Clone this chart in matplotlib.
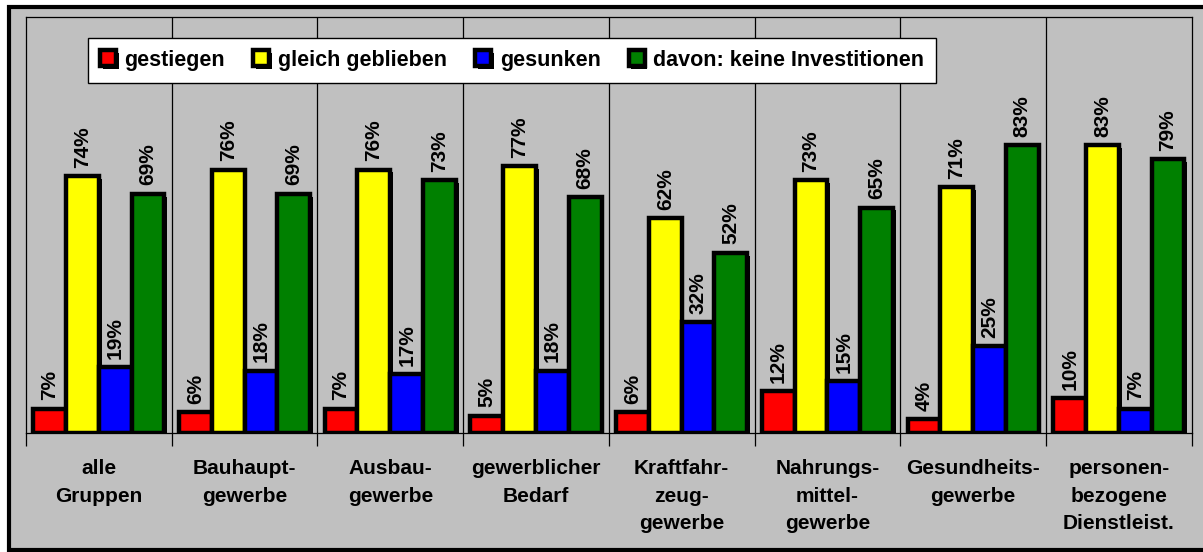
import numpy as np
import matplotlib
matplotlib.use('Agg')
import matplotlib.pyplot as plt
import matplotlib.patheffects as pe
from matplotlib.patches import Rectangle

categories = ['alle\nGruppen', 'Bauhaupt-\ngewerbe', 'Ausbau-\ngewerbe', 'gewerblicher\nBedarf',
              'Kraftfahr-\nzeug-\ngewerbe', 'Nahrungs-\nmittel-\ngewerbe', 'Gesundheits-\ngewerbe',
              'personen-\nbezogene\nDienstleist.']
series_names = ['gestiegen', 'gleich geblieben', 'gesunken', 'davon: keine Investitionen']
gestiegen = [7, 6, 7, 5, 6, 12, 4, 10]
gleich = [74, 76, 76, 77, 62, 73, 71, 83]
gesunken = [19, 18, 17, 18, 32, 15, 25, 7]
keine_inv = [69, 69, 73, 68, 52, 65, 83, 79]
colors = ['#FF0000', '#FFFF00', '#0000FF', '#008000']

plt.rcParams['font.family'] = ['Liberation Sans', 'DejaVu Sans']
plt.rcParams['font.weight'] = 'bold'

W, H = 1203, 552
fig = plt.figure(figsize=(W / 100, H / 100), dpi=100, facecolor='white')

# grey chart area with black border
fig.patches.append(Rectangle((9 / W, 2 / H), 1.05, (550 - 7) / H, transform=fig.transFigure,
                             facecolor='#C0C0C0', edgecolor='black', linewidth=3, zorder=-5))

ax = fig.add_axes([26 / W, (H - 433) / H, (1191.7 - 26) / W, (433 - 17) / H])
ax.set_facecolor('#C0C0C0')
ax.patch.set_alpha(0)

x = np.arange(len(categories))
width = 0.225
shadow = [pe.SimplePatchShadow(offset=(2, -2), shadow_rgbFace='black', alpha=1), pe.Normal()]

all_series = [gestiegen, gleich, gesunken, keine_inv]
handles = []
for i, (vals, col, name) in enumerate(zip(all_series, colors, series_names)):
    pos = x + (i - 1.5) * width
    bars = ax.bar(pos, vals, width=width, color=col, edgecolor='black', linewidth=3.2,
                  label=name, zorder=3)
    for b in bars:
        b.set_path_effects(shadow)
    handles.append(bars)
    for p, v in zip(pos, vals):
        ax.annotate(f'{v}%', (p, v), textcoords='offset points', xytext=(0, 6),
                    ha='center', va='bottom', rotation=90, fontsize=15, fontweight='bold')

ax.set_xlim(-0.5, len(categories) - 0.5)
ax.set_ylim(0, 120)
ax.set_yticks([])

for k in range(1, len(categories)):
    ax.axvline(k - 0.5, color='black', linewidth=0.9, zorder=1)

ax.set_xticks(x)
ax.set_xticklabels(categories, fontsize=15, fontweight='bold', linespacing=1.55)
ax.tick_params(axis='x', which='major', length=0, pad=19)
ax.set_xticks(np.arange(-0.5, len(categories)), minor=True)
ax.tick_params(axis='x', which='minor', length=9, width=0.9, direction='out')

for s in ax.spines.values():
    s.set_linewidth(0.9)
    s.set_color('black')

leg = fig.legend(handles=handles, labels=series_names, ncol=4, loc='upper left',
                 bbox_to_anchor=(88 / W, (H - 38) / H), frameon=True, fancybox=False,
                 facecolor='white', edgecolor='black', framealpha=1,
                 prop={'size': 15.5, 'weight': 'bold'}, handlelength=0.75, handleheight=0.75,
                 handletextpad=0.4, columnspacing=1.3, borderpad=0.55, borderaxespad=0)
leg.get_frame().set_linewidth(1.0)

fig.savefig('out.png', dpi=100)
